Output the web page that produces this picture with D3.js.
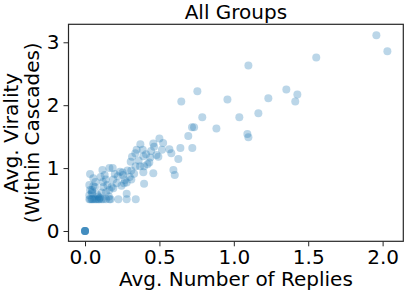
<!DOCTYPE html>
<html>
<head>
<meta charset="utf-8">
<script src="https://cdn.jsdelivr.net/npm/d3@7"></script>
<style>
  body { margin: 0; background: #fff; }
  text { font-family: "DejaVu Sans", sans-serif; fill: #000; }
  .axis path, .axis line { stroke: #262626; }
</style>
</head>
<body>
<script>
// avg replies per group
var replies = [
  0, 0, 0, 0, 0,
  0.755, 0.647, 0.957, 0.788, 1.037, 0.719, 0.733, 0.883, 0.694, 0.5,
  0.372, 0.459, 0.464, 0.641, 0.721, 0.567, 0.58, 0.517, 0.347, 0.388,
  0.444, 0.627, 0.493, 0.439, 0.392, 0.316, 0.307, 0.338, 0.432, 0.34,
  0.37, 0.397, 0.594, 0.603, 0.459, 0.392, 0.311, 0.285, 0.235, 0.253,
  0.186, 0.164, 0.117, 0.034, 0.056, 0.105, 0.132, 0.141, 0.2, 0.19,
  0.267, 0.28, 0.262, 0.311, 0.397, 0.213, 0.179, 0.15, 0.123, 0.029,
  0.056, 0.047, 0.067, 0.034, 0.047, 0.029, 0.19, 0.164, 0.141, 0.112,
  0.28, 0.029, 0.045, 0.06, 0.079, 0.096, 0.123, 0.141, 0.164, 0.173,
  0.224, 0.28, 0.341, 0.035, 0.05, 0.07, 0.09, 0.11,
  1.958, 2.032, 1.554, 1.098, 1.353, 1.427, 1.413, 1.232, 1.165, 1.091,
  1.098, 0.36, 0.41, 0.255, 0.22, 0.07, 0.09, 0.16, 0.3, 0.33,
  0.048, 0.08, 0.1, 0.12, 0.245, 0.42, 0.48, 0.525
];
// avg virality within cascades
var virality = [
  0, 0, 0, 0, 0,
  2.22, 2.06, 2.09, 1.81, 1.81, 1.65, 1.65, 1.63, 1.51, 1.47,
  1.38, 1.39, 1.34, 1.32, 1.32, 1.30, 1.235, 1.29, 1.29, 1.29,
  1.27, 1.145, 1.18, 1.17, 1.19, 1.18, 1.10, 1.235, 1.09, 1.03,
  1.03, 1.03, 0.97, 0.89, 0.917, 0.933, 0.96, 0.96, 0.94, 0.93,
  1.0, 1.0, 0.97, 0.905, 0.84, 0.86, 0.89, 0.82, 0.905, 0.82,
  0.81, 0.77, 0.76, 0.82, 0.75, 0.76, 0.70, 0.73, 0.70, 0.73,
  0.715, 0.65, 0.70, 0.65, 0.60, 0.57, 0.68, 0.65, 0.615, 0.61,
  0.59, 0.504, 0.504, 0.504, 0.504, 0.504, 0.504, 0.504, 0.504, 0.504,
  0.504, 0.504, 0.504, 0.504, 0.504, 0.504, 0.504, 0.504,
  3.11, 2.857, 2.76, 2.63, 2.25, 2.17, 2.06, 2.11, 1.87, 1.54,
  1.49, 1.12, 1.22, 0.89, 0.87, 0.78, 0.55, 0.55, 0.86, 0.91,
  0.62, 0.58, 0.53, 0.78, 0.72, 1.06, 1.21, 1.4
];
var xTicks = [0, 0.5, 1, 1.5, 2];
var yTicks = [0, 1, 2, 3];

var W = 406, H = 294;
var margin = {top: 24.3, right: 2.7, bottom: 52.7, left: 68.5};
var fs = "20px";

var svg = d3.select("body").append("svg")
    .attr("width", W)
    .attr("height", H);

var xScale = d3.scaleLinear()
    .domain([-0.111, 2.139])
    .range([margin.left, W - margin.right]);

var yScale = d3.scaleLinear()
    .domain([-0.164, 3.286])
    .range([H - margin.bottom, margin.top]);

var points = replies.map(function(d, i) { return {x: d, y: virality[i]}; });

svg.append("g")
    .selectAll("circle")
    .data(points)
    .enter()
    .append("circle")
    .attr("cx", function(d) { return xScale(d.x); })
    .attr("cy", function(d) { return yScale(d.y); })
    .attr("r", 4)
    .attr("fill", "#1f77b4")
    .attr("fill-opacity", 0.3);

var xAxis = d3.axisBottom(xScale)
    .tickValues(xTicks)
    .tickFormat(d3.format(".1f"))
    .tickSize(5)
    .tickPadding(4)
    .tickSizeOuter(0);

var yAxis = d3.axisLeft(yScale)
    .tickValues(yTicks)
    .tickFormat(d3.format("d"))
    .tickSize(5)
    .tickPadding(4)
    .tickSizeOuter(0);

svg.append("g")
    .attr("class", "axis")
    .attr("transform", "translate(0," + (H - margin.bottom) + ")")
    .call(xAxis)
    .call(function(g) { g.select(".domain").remove(); })
    .selectAll("text")
    .style("font-size", fs);

svg.append("g")
    .attr("class", "axis")
    .attr("transform", "translate(" + margin.left + ",0)")
    .call(yAxis)
    .call(function(g) { g.select(".domain").remove(); })
    .selectAll("text")
    .style("font-size", fs);

// frame
svg.append("rect")
    .attr("x", margin.left)
    .attr("y", margin.top)
    .attr("width", W - margin.right - margin.left)
    .attr("height", H - margin.bottom - margin.top)
    .attr("fill", "none")
    .attr("stroke", "#262626")
    .attr("stroke-width", 1.2);

var cx = (margin.left + W - margin.right) / 2;
var cy = (margin.top + H - margin.bottom) / 2;

svg.append("text")
    .attr("x", cx)
    .attr("y", 19)
    .attr("text-anchor", "middle")
    .style("font-size", fs)
    .text("All Groups");

svg.append("text")
    .attr("x", cx)
    .attr("y", 286)
    .attr("text-anchor", "middle")
    .style("font-size", fs)
    .text("Avg. Number of Replies");

svg.append("text")
    .attr("transform", "translate(18," + cy + ") rotate(-90)")
    .attr("text-anchor", "middle")
    .style("font-size", fs)
    .text("Avg. Virality");

svg.append("text")
    .attr("transform", "translate(39," + cy + ") rotate(-90)")
    .attr("text-anchor", "middle")
    .style("font-size", fs)
    .text("(Within Cascades)");
</script>
</body>
</html>
